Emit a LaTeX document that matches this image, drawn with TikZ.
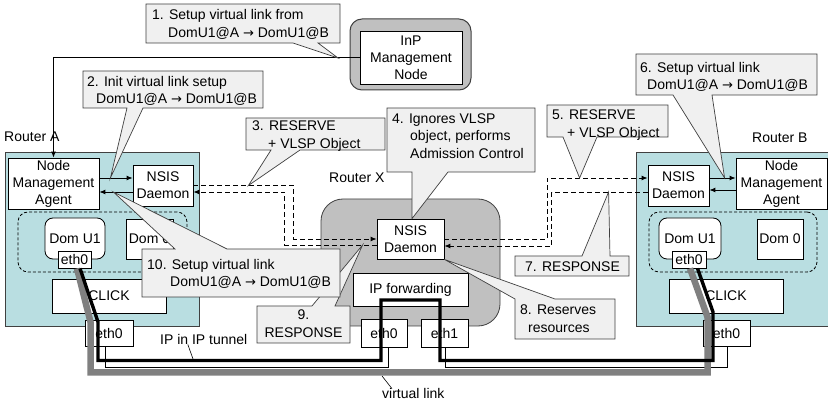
\documentclass[tikz,border=0pt]{standalone}
\usepackage{fontspec}
\setmainfont{Liberation Sans}
\newfontfamily\arrowfont{DejaVu Sans}
\usetikzlibrary{arrows.meta,calc}
\definecolor{rblue}{HTML}{B9DEE1}
\definecolor{rgray}{HTML}{C0C0C0}
\definecolor{cfill}{HTML}{F0F0F0}
\definecolor{cline}{HTML}{404040}
\definecolor{vgray}{HTML}{808080}
\newcommand\dfont{\fontsize{14}{17}\selectfont}
\newcommand\cfont{\fontsize{14}{17.5}\selectfont}
\newcommand\rarr{{\arrowfont\fontsize{13}{17}\selectfont →}}
\newcommand\calloutB[7]{\draw[cpath] (#1,#2) -- (#3,#2) -- (#3,#4) -- (#6,#4) -- #7 -- (#5,#4) -- (#1,#4) -- cycle;}
\newcommand\calloutT[7]{\draw[cpath] (#1,#2) -- (#5,#2) -- #7 -- (#6,#2) -- (#3,#2) -- (#3,#4) -- (#1,#4) -- cycle;}
\begin{document}
\begin{tikzpicture}[x=1pt,y=-1pt,
  >={Latex[length=6pt,width=5pt]},
  box/.style={draw=black, fill=white, line width=0.8pt, inner sep=0pt, align=center, font=\dfont},
  router/.style={draw=cline, fill=rblue, line width=0.8pt, inner sep=0pt},
  dombox/.style={draw=black, line width=0.8pt, dash pattern=on 3pt off 2pt, rounded corners=10pt, inner sep=0pt},
  lbl/.style={inner sep=0pt, anchor=west, font=\dfont},
  cpath/.style={draw=cline, fill=cfill, line width=0.7pt, line join=miter},
  ctext/.style={inner sep=0pt, anchor=west, align=left, font=\cfont},
  sol/.style={draw=black, line width=0.9pt},
  dsh/.style={draw=black, line width=0.9pt, dash pattern=on 5pt off 3pt},
  thinlink/.style={draw=black, line width=0.7pt},
  blacklink/.style={draw=black, line width=3.4pt, line join=miter},
  graylink/.style={draw=vgray, line width=6.5pt, line join=miter},
  ptr/.style={draw=black, line width=0.6pt}]
\clip (0,0) rectangle (828,403);
\fill[white] (0,0) rectangle (828,403);

% routers
\node[router, minimum width=194, minimum height=174] (routerA) at (102,239) {};
\node[router, minimum width=199, minimum height=174] (routerB) at (735.5,239) {};
\node[router, fill=rgray, rounded corners=22pt, minimum width=179, minimum height=127] (routerX) at (410.5,262.5) {};
\node[lbl] (labA) at (4,137) {Router A};
\node[lbl] (labB) at (752,138) {Router B};
\node[lbl] (labX) at (329,178) {Router X};

% InP management node
\node[draw=cline, fill=rgray, line width=1pt, rounded corners=12pt, minimum width=121, minimum height=71, inner sep=0pt] (inpframe) at (410.5,54.5) {};
\node[box, minimum width=102, minimum height=53] (inp) at (411,57.5) {InP\\Management\\Node};

% Router A contents
\node[box, minimum width=91, minimum height=51] (nmaA) at (53.5,183.5) {Node\\Management\\Agent};
\node[box, minimum width=60, minimum height=41] (nsisA) at (163,185.5) {NSIS\\Daemon};
\node[dombox, minimum width=169, minimum height=60] (domA) at (102.5,242) {};
\node[box, rounded corners=8pt, minimum width=60, minimum height=41] (domuA) at (75,238.5) {Dom U1};
\node[box, minimum width=33, minimum height=17] (ethuA) at (74.5,259.5) {eth0};
\node[box, minimum width=47, minimum height=40] (dom0A) at (149.5,239) {Dom 0};
\node[box, minimum width=114, minimum height=34] (clickA) at (109,296) {CLICK};
\node[box, minimum width=48, minimum height=26] (ethA) at (109,333) {eth0};

% Router X contents
\node[box, minimum width=67, minimum height=40] (nsisX) at (410.5,239) {NSIS\\Daemon};
\node[box, minimum width=115, minimum height=33] (ipfwd) at (410.5,289.5) {IP forwarding};
\node[box, minimum width=46, minimum height=28] (eth0X) at (384,333) {eth0};
\node[box, minimum width=47, minimum height=28] (eth1X) at (444.5,333) {eth1};

% Router B contents
\node[box, minimum width=61, minimum height=41] (nsisB) at (678.5,185.5) {NSIS\\Daemon};
\node[box, minimum width=91, minimum height=51] (nmaB) at (781.5,183.5) {Node\\Management\\Agent};
\node[dombox, minimum width=168, minimum height=60] (domB) at (733,242) {};
\node[box, rounded corners=8pt, minimum width=62, minimum height=41] (domuB) at (690,238.5) {Dom U1};
\node[box, minimum width=34, minimum height=17] (ethuB) at (689,259.5) {eth0};
\node[box, minimum width=46, minimum height=40] (dom0B) at (780,239) {Dom 0};
\node[box, minimum width=114, minimum height=34] (clickB) at (726,296) {CLICK};
\node[box, minimum width=47, minimum height=26] (ethB) at (726.5,333) {eth0};

% solid arrows inside routers
\draw[sol,->] ([yshift=5.5pt]nmaA.east) -- ([yshift=5.5pt]nmaA.east -| nsisA.west);
\draw[sol,->] ([yshift=-6.5pt]nsisA.west) -- ([yshift=-6.5pt]nsisA.west -| nmaA.east);
\draw[sol,->] ([yshift=7.5pt]nsisB.east) -- ([yshift=7.5pt]nsisB.east -| nmaB.west);
\draw[sol,->] ([yshift=-6.5pt]nmaB.west) -- ([yshift=-6.5pt]nmaB.west -| nsisB.east);

% dashed signalling
\draw[dsh,->] (nsisA.east) -- ++(100,0) |- (nsisX.west);
\draw[dsh,->] ([yshift=-6pt]nsisX.west) -- ++(-92,0) |- ([yshift=-6.5pt]nsisA.east);
\draw[dsh,->] (nsisX.east) -- ++(103,0) |- ([yshift=7.5pt]nsisB.west);
\draw[dsh,->] ([yshift=-6.5pt]nsisB.west) -- ++(-96,0) |- ([yshift=-7pt]nsisX.east);

% management line
\draw[sol,->] (inp.west) -| (nmaA.north);

% links
\draw[thinlink] ([xshift=-4pt]ethA.south) -- ++(0,21) -| ([xshift=4pt]eth0X.south);
\draw[thinlink] ([xshift=0.5pt]eth1X.south) -- ++(0,20) -| ([xshift=0.5pt]ethB.south);
\draw[graylink] ([xshift=2.5pt]ethuA.south) -- (90.5,322) -- (90.5,372.5) -- (707.5,372.5) -- (707.5,317) -- ([xshift=1pt]ethuB.south);
\draw[blacklink] ([xshift=5.5pt]ethuA.south) -- (98,322) -- (98,360.5) -- (381,360.5) -- (381,300) -- (440,300) -- (440,360.5) -- (713,360.5) -- (713,312) -- ([xshift=8.5pt]ethuB.south);

\node[lbl] (tunnel) at (160,339) {IP in IP tunnel};
\draw[ptr] ([xshift=-16pt]tunnel.south) -- (193,359);
\node[lbl] (vlink) at (382,393) {virtual link};
\draw[ptr] (382,376) -- ([xshift=10pt,yshift=-1pt]vlink.north west);

% callout tips
\coordinate (t1) at (338,58);
\coordinate (t2) at ([xshift=11pt,yshift=5.5pt]nmaA.east);
\coordinate (t3) at ([xshift=55pt]nsisA.east);
\coordinate (t4) at ([xshift=1.5pt]nsisX.north);
\coordinate (t5) at ([xshift=-68pt,yshift=7.5pt]nsisB.west);
\coordinate (t6) at ([xshift=-11pt,yshift=5.5pt]nmaB.west);
\coordinate (t7) at ([xshift=-39pt,yshift=-6.5pt]nsisB.west);
\coordinate (t8) at (nsisX.south east);
\coordinate (t9) at ([xshift=-14pt,yshift=-6pt]nsisX.west);
\coordinate (t10) at ([xshift=14pt,yshift=-8.5pt]nmaA.east);

% callouts
\calloutB{146}{4}{340}{43}{293}{318}{(t1)}
\node[ctext] (c1) at (152,24.5) {1. Setup virtual link from\\\hspace*{16pt}DomU1@A \rarr{} DomU1@B};
\calloutB{83}{71}{263}{108}{127}{143}{(t2)}
\node[ctext] (c2) at (87,91) {2. Init virtual link setup\\\hspace*{9pt}DomU1@A \rarr{} DomU1@B};
\calloutB{246}{118}{385}{150}{271}{300}{(t3)}
\node[ctext] (c3) at (252,136) {3. RESERVE\\\hspace*{16pt}+ VLSP Object};
\calloutB{387}{108}{535}{172}{412}{448}{(t4)}
\node[ctext] (c4) at (392,136) {4. Ignores VLSP\\\hspace*{18pt}object, performs\\\hspace*{18pt}Admission Control};
\calloutB{547}{105}{668}{137}{563}{597}{(t5)}
\node[ctext] (c5) at (552,125) {5. RESERVE\\\hspace*{15pt}+ VLSP Object};
\calloutB{636}{54}{817}{95}{673}{712}{(t6)}
\node[ctext] (c6) at (640,77) {6. Setup virtual link\\\hspace*{7pt}DomU1@A \rarr{} DomU1@B};
\calloutT{515}{256}{629}{276}{582}{610}{(t7)}
\node[ctext] (c7) at (525,266.5) {7. RESPONSE};
\calloutT{515}{299}{615}{339}{515}{555}{(t8)}
\node[ctext] (c8) at (520,318.5) {8. Reserves\\\hspace*{8pt}resources};
\calloutT{257}{306}{350}{343}{312}{335}{(t9)}
\node[ctext, anchor=center, align=center] (c9) at (303.5,323.5) {9.\\RESPONSE};
\calloutT{142}{249}{340}{297}{175}{227}{(t10)}
\node[ctext] (c10) at (147,274) {10. Setup virtual link\\\hspace*{23pt}DomU1@A \rarr{} DomU1@B};
\end{tikzpicture}
\end{document}
